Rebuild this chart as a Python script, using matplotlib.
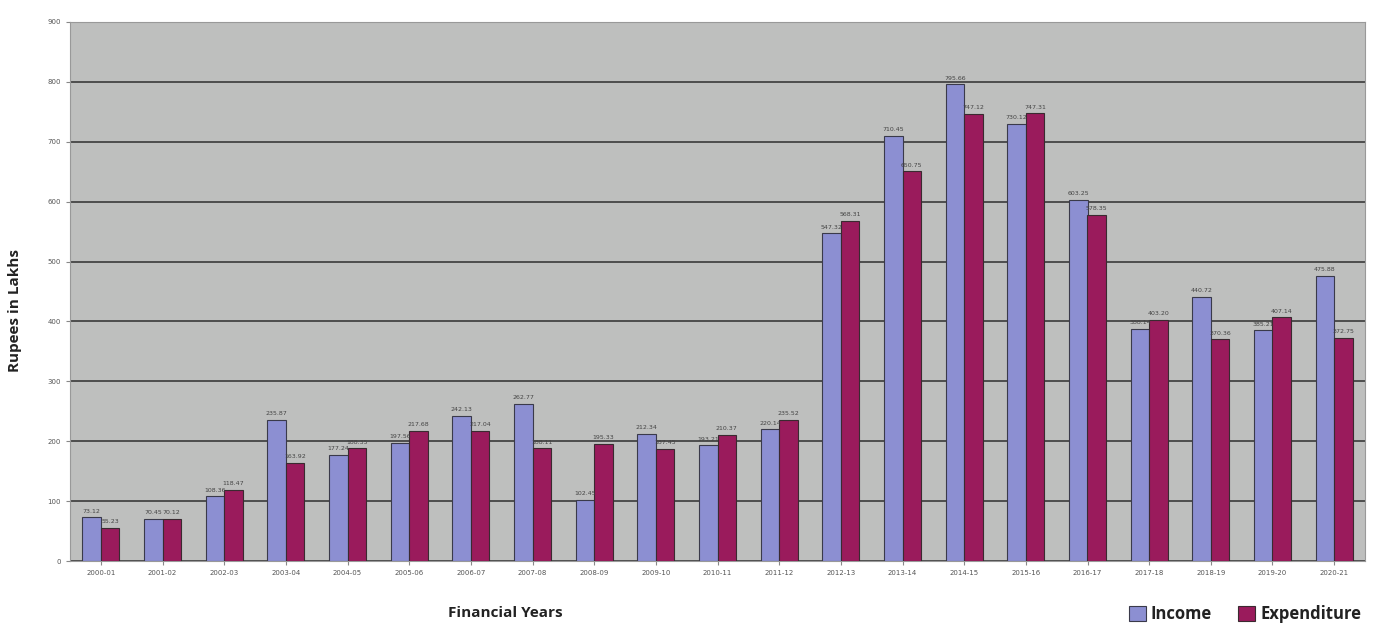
import matplotlib
matplotlib.use("Agg")
import matplotlib.pyplot as plt
import numpy as np

years = ["2000-01", "2001-02", "2002-03", "2003-04", "2004-05", "2005-06", "2006-07",
         "2007-08", "2008-09", "2009-10", "2010-11", "2011-12", "2012-13", "2013-14",
         "2014-15", "2015-16", "2016-17", "2017-18", "2018-19", "2019-20", "2020-21"]
income = [73.12, 70.45, 108.36, 235.87, 177.24, 197.56, 242.13, 262.77, 102.45, 212.34,
          193.21, 220.14, 547.32, 710.45, 795.66, 730.12, 603.25, 388.14, 440.72, 385.21, 475.88]
expenditure = [55.23, 70.12, 118.47, 163.92, 188.35, 217.68, 217.04, 188.11, 195.33, 187.45,
               210.37, 235.52, 568.31, 650.75, 747.12, 747.31, 578.35, 403.20, 370.36, 407.14, 372.75]
yticks = [0, 100, 200, 300, 400, 500, 600, 700, 800, 900]

fig = plt.figure(figsize=(13.8, 6.28), dpi=100)
ax = fig.add_axes([70/1380, 1-561/628, 1295/1380, 539/628])
ax.set_facecolor("#bebfbe")

x = np.arange(len(years))
w = 0.3
b1 = ax.bar(x - w/2, income, w, color="#8c8fd2", edgecolor="#3a3a4a", linewidth=0.8, label="Income", zorder=3)
b2 = ax.bar(x + w/2, expenditure, w, color="#9a1b5c", edgecolor="#3a2a30", linewidth=0.8, label="Expenditure", zorder=3)

for xi, v in zip(x - w/2, income):
    ax.text(xi, v + 6, f"{v:.2f}", ha="center", va="bottom", fontsize=4.5, color="#444444", zorder=4)
for xi, v in zip(x + w/2, expenditure):
    ax.text(xi, v + 6, f"{v:.2f}", ha="center", va="bottom", fontsize=4.5, color="#444444", zorder=4)

ax.set_xlim(-0.5, len(years) - 0.5)
ax.set_ylim(0, 900)
ax.set_yticks(yticks)
ax.set_yticklabels([str(t) for t in yticks], fontsize=5, color="#555555")
ax.set_xticks(x)
ax.set_xticklabels(years, fontsize=5, color="#555555")
ax.tick_params(axis="both", length=3, color="#888888")
ax.yaxis.grid(True, color="#3a3a3a", linewidth=1.2, zorder=1)
ax.set_axisbelow(True)
for s in ax.spines.values():
    s.set_color("#999999")
    s.set_linewidth(0.8)

fig.text(15/1380, 1-310/628, "Rupees in Lakhs", rotation=90, ha="center", va="center",
         fontsize=11, fontweight="bold", color="#222222", family="Open Sans")
fig.text(505/1380, 1-613/628, "Financial Years", ha="center", va="center",
         fontsize=11, fontweight="bold", color="#222222", family="Open Sans")

leg = fig.legend(handles=[b1, b2], labels=["Income", "Expenditure"], loc="center",
                 bbox_to_anchor=(1245/1380, 1-614/628), ncol=2, frameon=False,
                 prop={"family": "Open Sans", "weight": "bold", "size": 12},
                 handlelength=1.0, handleheight=1.0, handletextpad=0.3, columnspacing=1.6)
for t in leg.get_texts():
    t.set_color("#222222")

fig.savefig("out.png", dpi=100)
